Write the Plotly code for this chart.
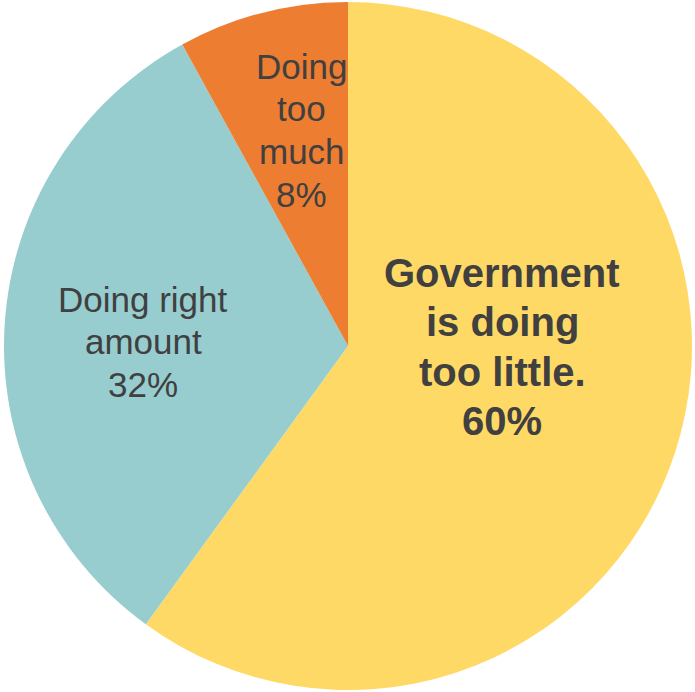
import plotly.graph_objects as go

W, H = 695, 692

labels = ["Government is doing too little.", "Doing right amount", "Doing too much"]
values = [60, 32, 8]
colors = ["#FFD966", "#97CDCE", "#ED7D31"]

# label lines shown inside each slice
label_lines = [
    ["Government", "is doing", "too little.", "60%"],
    ["Doing right", "amount", "32%"],
    ["Doing", "too", "much", "8%"],
]
label_bold = [True, False, False]

# layout (pixel) positions: centre x, first baseline, line step, font size
label_layout = [
    (502.5, 286.7, 49.4, 40),
    (143.0, 311.7, 42.3, 35),
    (301.5, 78.3, 42.8, 35),
]

FONT = "Liberation Sans"

fig = go.Figure(go.Pie(
    labels=labels,
    values=values,
    marker=dict(colors=colors, line=dict(width=0)),
    sort=False,
    direction="clockwise",
    rotation=0,
    textinfo="none",
    hoverinfo="label+percent",
    domain=dict(x=[4 / W, 692 / W], y=[1 - 690 / H, 1 - 2 / H]),
    showlegend=False,
))

for lines, bold, (cx, base0, step, sz) in zip(label_lines, label_bold, label_layout):
    for i, line in enumerate(lines):
        base = base0 + i * step
        mid = base - 0.3465 * sz
        txt = f"<b>{line}</b>" if bold else line
        fig.add_annotation(
            x=cx / W, y=1 - mid / H, xref="paper", yref="paper",
            text=txt, showarrow=False, align="center",
            xanchor="center", yanchor="middle",
            borderpad=0, borderwidth=0,
            font=dict(family=FONT, size=sz, color="#404040"),
        )

fig.update_layout(
    width=W, height=H,
    margin=dict(l=0, r=0, t=0, b=0),
    paper_bgcolor="white",
    plot_bgcolor="white",
    font=dict(family=FONT),
)

fig.write_html("out.html", config={"displayModeBar": False},
               post_script="document.body.style.margin='0';document.body.style.overflow='hidden';")
